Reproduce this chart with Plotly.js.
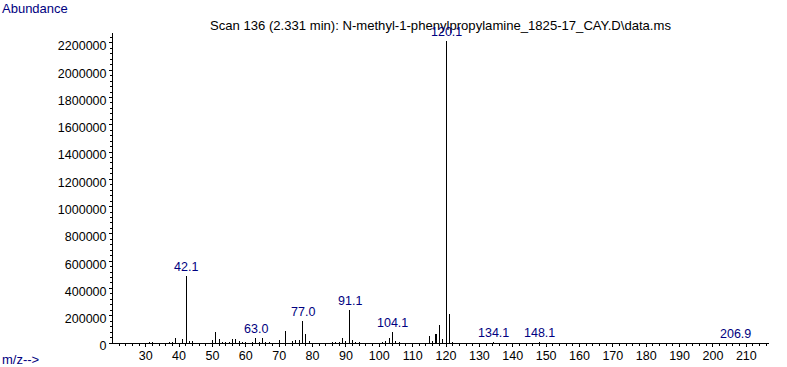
<!DOCTYPE html>
<html>
<head>
<meta charset="utf-8">
<script src="https://cdn.plot.ly/plotly-3.0.1.min.js"></script>
<style>html,body{margin:0;padding:0;background:#fff;}#chart{width:787px;height:367px;}</style>
</head>
<body>
<div id="chart"></div>
<script>
// m/z values of the peaks
const mz = [31, 32, 37, 38, 39, 41, 42.1, 43, 44, 50, 51, 52, 53, 54, 55, 56, 57, 58, 59, 60, 62, 63.0, 64, 65, 66, 67,
            70, 72, 74, 75, 76, 77.0, 78, 79, 86, 87, 88, 89, 90, 91.1, 92, 93, 94, 101, 102, 103, 104.1, 105, 106,
            115, 116, 117, 118, 119, 120.1, 121, 122, 131, 134.1, 147, 148.1, 206.9];
// abundance of each peak
const abundance = [6000, 6000, 6000, 8000, 40000, 33000, 490000, 12000, 12000, 24000, 80000, 27000, 7000, 7000, 9000, 28000, 28000, 12000, 7000, 5000, 8000, 34000, 8000, 34000, 9000, 7000,
                   19500, 87000, 14000, 19500, 24000, 159000, 64000, 14000, 7000, 7000, 7000, 34000, 15000, 240000, 24000, 7000, 7000, 7000, 15000, 34000, 81000, 12000, 7000,
                   49000, 12000, 64000, 130000, 27000, 2217000, 210000, 7000, 3000, 5000, 3000, 5000, 2000];
// peaks carrying an m/z label
const labeledMz = [42.1, 63.0, 77.0, 91.1, 104.1, 120.1, 134.1, 148.1, 206.9];

const titleText = "Scan 136 (2.331 min): N-methyl-1-phenylpropylamine_1825-17_CAY.D\\data.ms";
const yAxisLabel = "Abundance";
const xAxisLabel = "m/z-->";

const FONT = "Liberation Sans, Arial, sans-serif";
const BLUE = "#000080";

const trace = {
  type: "bar",
  x: mz,
  y: abundance,
  width: 0.3,
  marker: {color: "#000000", line: {width: 0}},
  hoverinfo: "skip"
};

const peakAnnotations = labeledMz.map(m => {
  const i = mz.indexOf(m);
  return {
    x: m, y: abundance[i], xref: "x", yref: "y",
    text: m.toFixed(1), showarrow: false,
    xanchor: "center", yanchor: "bottom",
    font: {family: FONT, size: 12.5, color: BLUE}
  };
});

const W = 787, H = 367, L = 113, R = 18, T = 33, B = 24;
const pw = W - L - R, ph = H - T - B;

const layout = {
  width: W, height: H,
  margin: {l: L, r: R, t: T, b: B, pad: 0},
  paper_bgcolor: "#ffffff", plot_bgcolor: "#ffffff",
  showlegend: false,
  font: {family: FONT, size: 12.5, color: "#000000"},
  title: {
    text: titleText,
    x: 440.5 / W, xref: "container", xanchor: "center",
    y: 1 - 25 / H, yref: "container", yanchor: "middle",
    font: {family: FONT, size: 13.1, color: "#000000"}
  },
  bargap: 0,
  xaxis: {
    range: [20.2, 216.8],
    showline: true, linecolor: "#000000", linewidth: 1,
    ticks: "outside", ticklen: 3, tickwidth: 1, tickcolor: "#000000",
    tick0: 0, dtick: 10,
    ticklabelstandoff: -2,
    minor: {dtick: 2, tick0: 0, ticks: "outside", ticklen: 2, tickwidth: 1, tickcolor: "#000000", showgrid: false},
    showgrid: false, zeroline: false,
    tickfont: {family: FONT, size: 12.5, color: "#000000"},
    fixedrange: true
  },
  yaxis: {
    range: [0, 2273000],
    showline: true, linecolor: "#000000", linewidth: 1,
    ticks: "outside", ticklen: 3, tickwidth: 1, tickcolor: "#000000",
    tick0: 0, dtick: 200000, tickformat: "d",
    ticklabelshift: 3,
    minor: {dtick: 40000, tick0: 0, ticks: "outside", ticklen: 2, tickwidth: 1, tickcolor: "#000000", showgrid: false},
    showgrid: false, zeroline: false,
    tickfont: {family: FONT, size: 12.5, color: "#000000"},
    fixedrange: true
  },
  annotations: peakAnnotations.concat([
    {text: yAxisLabel, xref: "paper", yref: "paper", x: -L / pw, y: (H - B - 8.5) / ph,
     xanchor: "left", yanchor: "middle", showarrow: false,
     font: {family: FONT, size: 13, color: BLUE}},
    {text: xAxisLabel, xref: "paper", yref: "paper", x: -L / pw, y: (H - B - 359.5) / ph,
     xanchor: "left", yanchor: "middle", showarrow: false,
     font: {family: FONT, size: 13, color: BLUE}}
  ])
};

Plotly.newPlot("chart", [trace], layout, {displayModeBar: false, staticPlot: true});
</script>
</body>
</html>
